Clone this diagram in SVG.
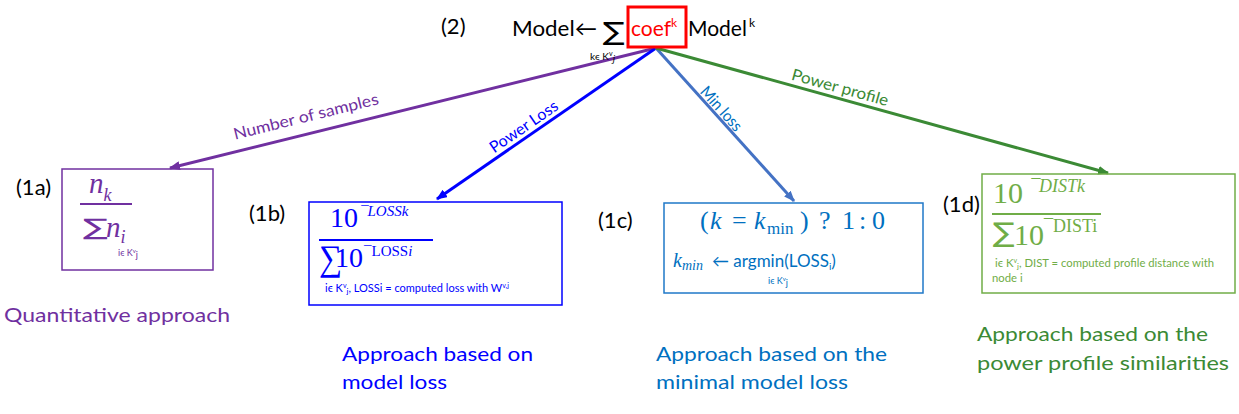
<svg xmlns="http://www.w3.org/2000/svg" width="1239" height="414" viewBox="0 0 1239 414">
<style>
.s{font-family:Lato,"DejaVu Sans",sans-serif}
.m{font-family:"Liberation Serif","DejaVu Serif",serif}
.sig{font-family:"DejaVu Sans",sans-serif}
.it{font-style:italic}
.lbl{font-family:Lato,"DejaVu Sans",sans-serif;font-size:22px;fill:#000}
.cap{font-family:Lato,"DejaVu Sans",sans-serif;font-size:20px}
.cl{font-family:Lato,"DejaVu Sans",sans-serif;font-size:16px}
.box{fill:none;stroke-width:1.5}
.edge{fill:none;stroke-width:3}
</style>
<defs>
<marker id="ap" viewBox="0 0 10 8" refX="9" refY="4" markerWidth="11" markerHeight="9" orient="auto" markerUnits="userSpaceOnUse"><path d="M0,0 L10,4 L0,8 z" fill="#7030A0"/></marker>
<marker id="ab" viewBox="0 0 10 8" refX="9" refY="4" markerWidth="11" markerHeight="9" orient="auto" markerUnits="userSpaceOnUse"><path d="M0,0 L10,4 L0,8 z" fill="#0000FF"/></marker>
<marker id="as" viewBox="0 0 10 8" refX="9" refY="4" markerWidth="11" markerHeight="9" orient="auto" markerUnits="userSpaceOnUse"><path d="M0,0 L10,4 L0,8 z" fill="#4472C4"/></marker>
<marker id="ag" viewBox="0 0 10 8" refX="9" refY="4" markerWidth="11" markerHeight="9" orient="auto" markerUnits="userSpaceOnUse"><path d="M0,0 L10,4 L0,8 z" fill="#3B8A35"/></marker>
</defs>
<rect width="1239" height="414" fill="#fff"/>

<g id="connectors">
<line class="edge" x1="656" y1="48" x2="170" y2="168" stroke="#7030A0" marker-end="url(#ap)"/>
<line class="edge" x1="656" y1="48" x2="437" y2="199" stroke="#0000FF" marker-end="url(#ab)"/>
<line class="edge" x1="656" y1="48" x2="794" y2="201" stroke="#4472C4" stroke-width="2.5" marker-end="url(#as)"/>
<line class="edge" x1="656" y1="48" x2="1108" y2="173" stroke="#3B8A35" marker-end="url(#ag)"/>
<text class="cl" fill="#7030A0" text-anchor="middle" transform="translate(306,117) rotate(-13.9)" y="5" textLength="149" lengthAdjust="spacingAndGlyphs">Number of samples</text>
<text class="cl" fill="#0000FF" text-anchor="middle" transform="translate(524,127) rotate(-34.6)" y="5" textLength="79" lengthAdjust="spacingAndGlyphs">Power Loss</text>
<text class="cl" fill="#0070C0" text-anchor="middle" transform="translate(721,109) rotate(48)" y="5" textLength="54" lengthAdjust="spacingAndGlyphs">Min loss</text>
<text class="cl" fill="#3B8A35" text-anchor="middle" transform="translate(840,88) rotate(15.5)" y="5" textLength="100" lengthAdjust="spacingAndGlyphs">Power profile</text>
</g>

<g id="n2">
<text class="lbl" x="441" y="34">(2)</text>
<text class="s" x="512" y="36" font-size="21" fill="#000" textLength="85" lengthAdjust="spacingAndGlyphs">Model←</text>
<text class="sig" transform="translate(603,40) scale(1.3,1)" font-size="25" fill="#000">∑</text>
<rect x="628" y="7" width="58" height="40" fill="none" stroke="#FF0000" stroke-width="3"/>
<text class="s" x="631" y="36" font-size="21" fill="#FF0000">coef<tspan font-size="12" dy="-9">k</tspan></text>
<text class="s" x="688" y="36" font-size="21" fill="#000">Model<tspan font-size="12" dy="-9" dx="2">k</tspan></text>
<text class="s" x="590" y="60" font-size="10" fill="#000">kϵ K<tspan font-size="7" dy="-4">v</tspan><tspan class="m it" font-size="10" dy="6">j</tspan></text>
</g>

<g id="n1a">
<text class="lbl" x="16" y="195">(1a)</text>
<rect class="box" x="62" y="169" width="151" height="101" stroke="#7030A0"/>
<text class="m it" x="89" y="193" font-size="29" fill="#7030A0">n<tspan font-size="18" dy="8">k</tspan></text>
<line x1="80" y1="204" x2="132" y2="204" stroke="#7030A0" stroke-width="2"/>
<text class="sig" transform="translate(83,235) scale(1.6,1)" font-size="23" fill="#7030A0">∑</text>
<text class="m it" x="106" y="237" font-size="29" fill="#7030A0">n<tspan font-size="18" dy="6">i</tspan></text>
<text class="s" x="118" y="256" font-size="9" fill="#7030A0">iϵ K<tspan font-size="6" dy="-3">v</tspan><tspan dy="5">j</tspan></text>
<text class="cap" x="4" y="322" fill="#7030A0" textLength="226" lengthAdjust="spacingAndGlyphs">Quantitative approach</text>
</g>

<g id="n1b">
<text class="lbl" x="249" y="221">(1b)</text>
<rect class="box" x="309" y="202" width="253" height="103" stroke="#0000FF"/>
<text class="m" x="330" y="227" font-size="28" fill="#0000FF">10</text>
<text class="m it" x="360" y="216" font-size="15" fill="#0000FF">¯LOSSk</text>
<line x1="319" y1="240" x2="433" y2="240" stroke="#0000FF" stroke-width="2"/>
<text class="m" transform="translate(319,270) scale(1.08,1.2)" font-size="30" fill="#0000FF">∑</text>
<text class="m" x="335" y="267" font-size="28" fill="#0000FF">10</text>
<text class="m" x="364" y="256" font-size="15" fill="#0000FF">¯LOSS<tspan class="it">i</tspan></text>
<text class="s" x="325" y="292" font-size="11" fill="#0000FF">iϵ K<tspan font-size="7" dy="-4">v</tspan><tspan font-size="8" dy="6">j</tspan><tspan dy="-2">, LOSSi = computed loss with W</tspan><tspan font-size="7" dy="-4">v,j</tspan></text>
<text class="cap" x="342" y="361" fill="#0000FF" textLength="191" lengthAdjust="spacingAndGlyphs">Approach based on</text>
<text class="cap" x="342" y="389" fill="#0000FF" textLength="105" lengthAdjust="spacingAndGlyphs">model loss</text>
</g>

<g id="n1c">
<text class="lbl" x="598" y="228">(1c)</text>
<rect class="box" x="664" y="203" width="259" height="90" stroke="#1F78C8"/>
<g class="m" fill="#0070C0" font-size="26">
<text x="700" y="229">(</text>
<text class="it" x="710" y="229">k</text>
<text x="732" y="229">=</text>
<text class="it" x="754" y="229">k</text>
<text x="767" y="234" font-size="17">min</text>
<text x="800" y="229">)</text>
<text x="819" y="229">?</text>
<text x="842" y="229">1</text>
<text x="859" y="229">:</text>
<text x="872" y="229">0</text>
</g>
<text class="m it" x="673" y="267" font-size="20" fill="#0070C0">k<tspan font-size="14" dy="3">min</tspan></text>
<text class="s" x="712" y="267" font-size="17" fill="#0070C0">← argmin(LOSS<tspan font-size="10" dy="3">i</tspan><tspan dy="-3">)</tspan></text>
<text class="s" x="768" y="284" font-size="9" fill="#0070C0">iϵ K<tspan font-size="6" dy="-3">v</tspan><tspan dy="5">j</tspan></text>
<text class="cap" x="656" y="361" fill="#0070C0" textLength="231" lengthAdjust="spacingAndGlyphs">Approach based on the</text>
<text class="cap" x="656" y="389" fill="#0070C0" textLength="192" lengthAdjust="spacingAndGlyphs">minimal model loss</text>
</g>

<g id="n1d">
<text class="lbl" x="943" y="212">(1d)</text>
<rect class="box" x="982" y="174" width="253" height="119" stroke="#70AD47"/>
<text class="m" x="993" y="203" font-size="30" fill="#70AD47">10</text>
<text class="m it" x="1030" y="192" font-size="18" fill="#70AD47">¯DISTk</text>
<line x1="992" y1="214" x2="1101" y2="214" stroke="#70AD47" stroke-width="2"/>
<text class="sig" transform="translate(993,242) scale(1.2,1)" font-size="27" fill="#70AD47">∑</text>
<text class="m" x="1014" y="245" font-size="30" fill="#70AD47">10</text>
<text class="m" x="1044" y="232" font-size="18" fill="#70AD47">¯DISTi</text>
<text class="s" x="995" y="267" font-size="11.3" fill="#70AD47">iϵ K<tspan font-size="7" dy="-4">v</tspan><tspan font-size="8" dy="6">j</tspan><tspan dy="-2">, DIST = computed profile distance with</tspan></text>
<text class="s" x="992" y="282" font-size="11.3" fill="#70AD47">node i</text>
<text class="cap" x="977" y="341" fill="#3B8A35" textLength="231" lengthAdjust="spacingAndGlyphs">Approach based on the</text>
<text class="cap" x="977" y="370" fill="#3B8A35" textLength="252" lengthAdjust="spacingAndGlyphs">power profile similarities</text>
</g>
</svg>
